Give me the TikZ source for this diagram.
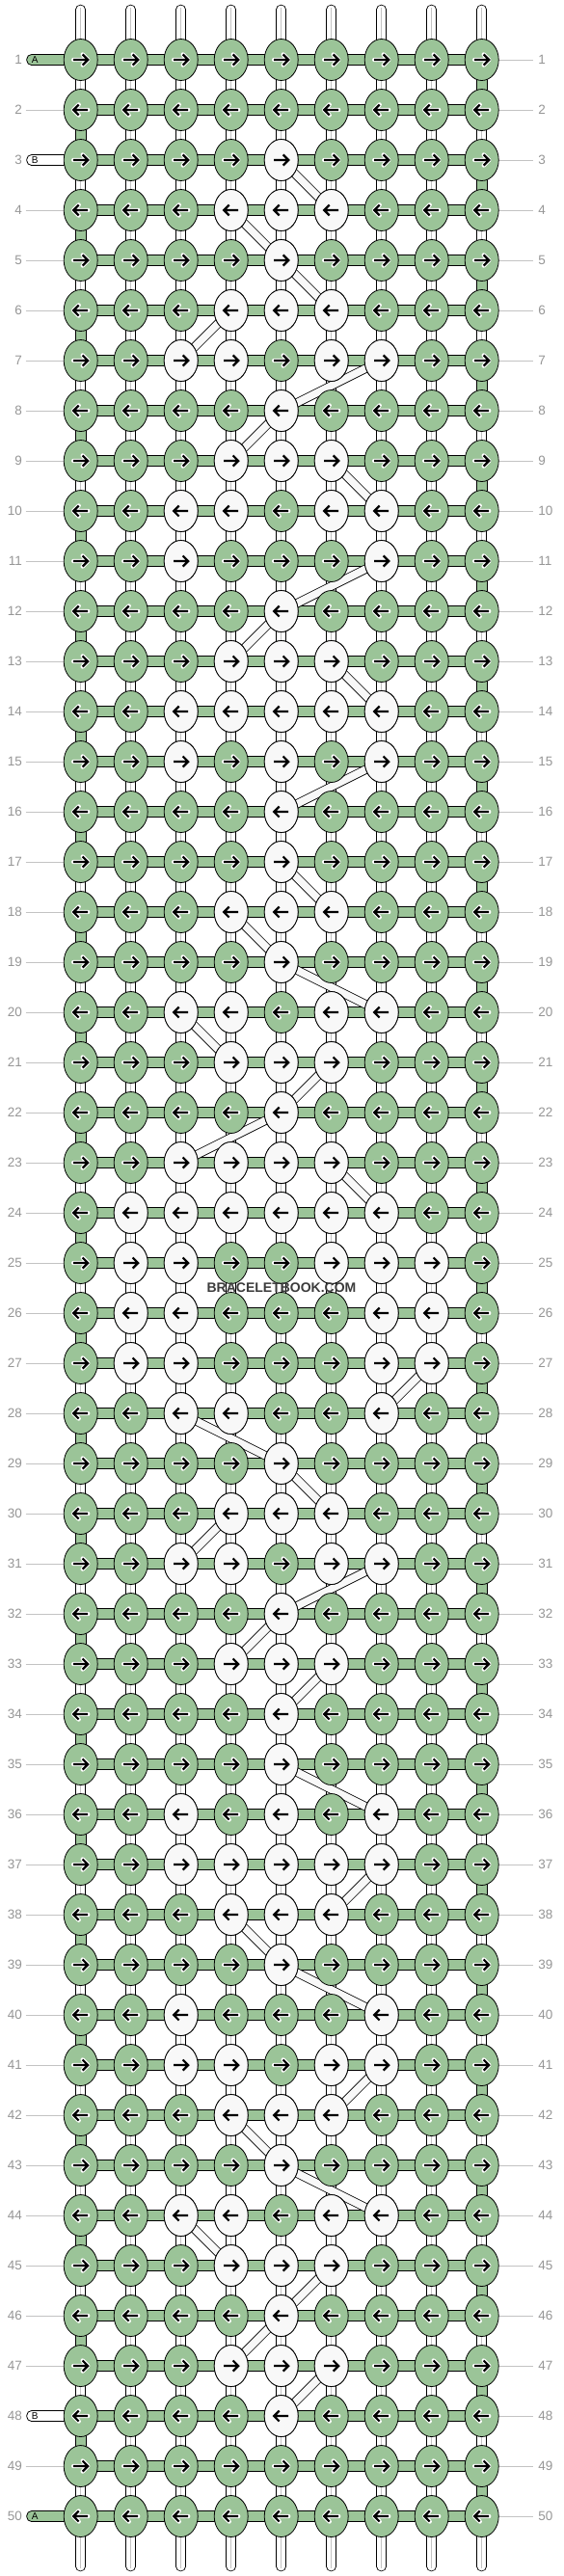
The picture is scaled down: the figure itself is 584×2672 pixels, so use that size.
\documentclass[tikz,border=0pt]{standalone}
\usepackage{fontspec}
\setmainfont{Liberation Sans}
\usetikzlibrary{shapes.geometric,calc}
\definecolor{kg}{RGB}{155,196,152}
\definecolor{kw}{RGB}{248,248,248}
\definecolor{lbl}{RGB}{150,150,150}
\definecolor{gl}{RGB}{195,195,195}
\definecolor{wmc}{RGB}{60,60,60}
\begin{document}
\begin{tikzpicture}[x=1pt,y=-1pt,
  knotG/.style={ellipse, draw=black, line width=0.8pt, fill=kg, minimum width=35pt, minimum height=43pt, inner sep=0pt},
  knotW/.style={knotG, fill=kw},
  diagline/.style={line width=7.6pt, draw=kw, preaction={draw=black, line width=9.2pt}},
  glink/.style={draw=black, line width=0.8pt, fill=kg},
  guide/.style={draw=gl, line width=0.8pt},
  lab/.style={text=lbl, font=\fontsize{13.5}{14}\selectfont, inner sep=0pt},
  pilltext/.style={text=black, font=\fontsize{10}{10}\selectfont, inner sep=0pt},
  arrhalo/.style={draw=white, line width=4.4pt, line cap=round, line join=round},
  arrbody/.style={draw=black, line width=2.2pt, line cap=butt, line join=miter},
]
\useasboundingbox (0,0) rectangle (584,2672);
\fill[white] (0,0) rectangle (584,2672);
% grid coordinates
\foreach \r in {1,...,50}{\foreach \c in {0,...,8}{
  \coordinate (p\r-\c) at ({83.7+52*\c},{62+52*(\r-1)});
}}
\foreach \c in {0,...,8}{
  \coordinate (t\c) at ({83.7+52*\c},10);
  \coordinate (b\c) at ({83.7+52*\c},2662);
}
% vertical (warp) strands
\foreach \c in {0,...,8}{
  \draw[black, line width=10.6pt, line cap=round] (t\c) -- (b\c);
  \draw[white, line width=9pt, line cap=round] (t\c) -- (b\c);
  \draw[gl, line width=0.8pt] ($(t\c)+(0,-2)$) -- ($(b\c)+(0,2)$);
}
% green turning links
\foreach \r in {2,4,...,48}{
  \pgfmathtruncatemacro\rn{\r+1}
  \draw[glink] ($(p\r-0)+(-5.3,19)$) rectangle ($(p\rn-0)+(5.3,-19)$);
}
\foreach \r in {1,3,...,49}{
  \pgfmathtruncatemacro\rn{\r+1}
  \draw[glink] ($(p\r-8)+(-5.3,19)$) rectangle ($(p\rn-8)+(5.3,-19)$);
}
% guide lines and labels
\foreach \r in {1,...,50}{
  \draw[guide] ($(p\r-8)+(17,0)$) -- ($(p\r-8)+(53,0)$);
  \node[lab, anchor=west] (lr\r) at ($(p\r-8)+(58.5,0)$) {\r};
  \node[lab, anchor=east] (ll\r) at ($(p\r-0)+(-60.5,0)$) {\r};
}
\foreach \r in {2,4,5,6,...,47,49}{
  \draw[guide] ($(p\r-0)+(-57,0)$) -- ($(p\r-0)+(-17,0)$);
}
% weft bars
\foreach \r in {1,...,50}{
  \draw[glink] ($(p\r-0)+(0,-5.5)$) rectangle ($(p\r-8)+(0,5.5)$);
}
% A / B pills
\foreach \r/\f/\t in {1/kg/A,50/kg/A,3/white/B,48/white/B}{
  \draw[draw=black, line width=0.8pt, fill=\f, rounded corners=5pt] ($(p\r-0)+(-56,-5.5)$) rectangle ($(p\r-0)+(-10,5.5)$);
  \node[pilltext] (pill\r) at ($(p\r-0)+(-47.5,0.5)$) {\t};
}
% diagonal white strands
\foreach \a/\b/\c/\d in {3/4/4/5, 4/3/5/4, 5/4/6/5, 6/3/7/2, 7/6/8/4, 8/4/9/3, 9/5/10/6,
  11/6/12/4, 12/4/13/3, 13/5/14/6, 15/6/16/4, 17/4/18/5, 18/3/19/4, 19/4/20/6,
  20/2/21/3, 21/5/22/4, 22/4/23/2, 23/5/24/6, 27/7/28/6, 28/2/29/4, 29/4/30/5,
  30/3/31/2, 31/6/32/4, 32/4/33/3, 33/5/34/4, 35/4/36/6, 37/6/38/5, 38/3/39/4,
  39/4/40/6, 41/6/42/5, 42/3/43/4, 43/4/44/6, 44/2/45/3, 45/5/46/4, 46/4/47/3, 47/5/48/4}{
  \draw[diagline] (p\a-\b) -- (p\c-\d);
}
% green knots
\foreach \r in {1,...,50}{
  \ifodd\r \def\dir{1}\else\def\dir{-1}\fi
  \foreach \c in {0,...,8}{
    \node[knotG] (k\r-\c) at (p\r-\c) {};
    \begin{scope}[shift={(p\r-\c)}, xscale=\dir]
      \draw[arrhalo] (-7.5,0) -- (7,0) (2,-5.5) -- (7.5,0) -- (2,5.5);
      \draw[arrbody] (-7.5,0) -- (7,0) (2,-5.5) -- (7.5,0) -- (2,5.5);
    \end{scope}
  }
}
% white knots
\foreach \r/\cs in {3/{4},4/{3,4,5},5/{4},6/{3,4,5},7/{2,3,5,6},8/{4},9/{3,4,5},
  10/{2,3,5,6},11/{2,6},12/{4},13/{3,4,5},14/{2,3,4,5,6},15/{2,4,6},16/{4},17/{4},
  18/{3,4,5},19/{4},20/{2,3,5,6},21/{3,4,5},22/{4},23/{2,3,4,5},24/{1,2,3,4,5,6},
  25/{1,2,5,6,7},26/{1,2,6,7},27/{1,2,6,7},28/{2,3,6},29/{4},30/{3,4,5},31/{2,3,5,6},
  32/{4},33/{3,4,5},34/{4},35/{4},36/{2,4,6},37/{2,3,4,5,6},38/{3,4,5},39/{4},
  40/{2,6},41/{2,3,5,6},42/{3,4,5},43/{4},44/{2,3,5,6},45/{3,4,5},46/{4},47/{3,4,5},48/{4}}{
  \ifodd\r \def\dir{1}\else\def\dir{-1}\fi
  \foreach \c in \cs {
    \node[knotW] (w\r-\c) at (p\r-\c) {};
    \begin{scope}[shift={(p\r-\c)}, xscale=\dir]
      \draw[arrbody] (-7.5,0) -- (7,0) (2,-5.5) -- (7.5,0) -- (2,5.5);
    \end{scope}
  }
}
% watermark
\node[text=wmc, font=\fontsize{14}{14}\bfseries\selectfont, inner sep=0pt] (wm) at (292,1336) {BRACELETBOOK.COM};
\end{tikzpicture}
\end{document}
